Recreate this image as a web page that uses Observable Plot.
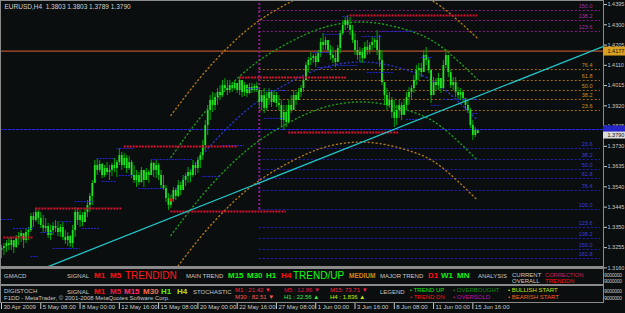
<!DOCTYPE html>
<html><head><meta charset="utf-8">
<script src="https://cdn.jsdelivr.net/npm/d3@7"></script>
<script src="https://cdn.jsdelivr.net/npm/@observablehq/plot@0.6"></script>
<style>
html,body{margin:0;padding:0;background:#0a0e0e;}
#wrap{position:relative;width:625px;height:313px;overflow:hidden;font-family:"Liberation Sans",Arial,sans-serif;background:#0a0e0e;}
#wrap svg{position:absolute;left:0;top:0;}
.t{position:absolute;white-space:nowrap;line-height:1;transform:translateY(-50%);}
.b{position:absolute;background:#8a8a8a;}
</style></head><body><div id="wrap"></div>
<script>
const symbol = "EURUSD,H4";
const open = [
1.3242,1.3251,1.3260,1.3274,1.3265,1.3288,1.3256,1.3298,1.3307,1.3321,
1.3288,1.3326,1.3335,1.3401,1.3382,1.3420,1.3392,1.3359,1.3345,1.3354,
1.3312,1.3335,1.3354,1.3345,1.3326,1.3349,1.3303,1.3288,1.3307,1.3274,
1.3335,1.3420,1.3382,1.3406,1.3373,1.3420,1.3453,1.3495,1.3556,1.3640,
1.3617,1.3645,1.3593,1.3626,1.3607,1.3617,1.3640,1.3626,1.3654,1.3687,
1.3640,1.3673,1.3626,1.3654,1.3593,1.3570,1.3593,1.3560,1.3617,1.3570,
1.3607,1.3593,1.3650,1.3617,1.3640,1.3593,1.3546,1.3532,1.3485,1.3453,
1.3481,1.3523,1.3495,1.3546,1.3523,1.3570,1.3589,1.3607,1.3593,1.3640,
1.3626,1.3664,1.3687,1.3734,1.3828,1.3898,1.3945,1.3922,1.3959,1.3983,
1.3968,1.4015,1.4001,1.3992,1.4015,1.4001,1.4025,1.3992,1.4039,1.3983,
1.4015,1.3978,1.4006,1.3992,1.4011,1.3992,1.3936,1.3968,1.3908,1.3954,
1.3983,1.3936,1.3968,1.3931,1.3922,1.3851,1.3889,1.3842,1.3922,1.3898,
1.3968,1.3945,1.3983,1.4001,1.4039,1.4109,1.4133,1.4142,1.4151,1.4123,
1.4165,1.4217,1.4203,1.4226,1.4180,1.4156,1.4142,1.4123,1.4189,1.4259,
1.4297,1.4320,1.4297,1.4273,1.4226,1.4180,1.4156,1.4170,1.4142,1.4194,
1.4180,1.4203,1.4217,1.4226,1.4180,1.4133,1.4029,1.3968,1.3922,1.3945,
1.3889,1.3861,1.3898,1.3922,1.3875,1.3922,1.3959,1.3983,1.4001,1.4039,
1.4086,1.4095,1.4076,1.4156,1.4133,1.4086,1.3968,1.4029,1.4015,1.4048,
1.4001,1.4109,1.4156,1.4076,1.4015,1.4029,1.3983,1.3968,1.3983,1.3954,
1.3922,1.3898,1.3828,1.3781,1.3803];
const high = [
1.3265,1.3274,1.3288,1.3298,1.3303,1.3288,1.3312,1.3326,1.3335,1.3321,
1.3345,1.3349,1.3415,1.3420,1.3439,1.3429,1.3420,1.3406,1.3392,1.3368,
1.3359,1.3373,1.3382,1.3377,1.3363,1.3373,1.3335,1.3326,1.3312,1.3359,
1.3443,1.3439,1.3429,1.3420,1.3434,1.3476,1.3509,1.3570,1.3664,1.3673,
1.3664,1.3650,1.3640,1.3654,1.3640,1.3650,1.3673,1.3664,1.3720,1.3701,
1.3696,1.3687,1.3682,1.3664,1.3640,1.3617,1.3607,1.3631,1.3617,1.3626,
1.3617,1.3664,1.3654,1.3664,1.3650,1.3617,1.3593,1.3546,1.3509,1.3499,
1.3537,1.3532,1.3570,1.3560,1.3593,1.3603,1.3631,1.3617,1.3664,1.3654,
1.3678,1.3701,1.3757,1.3851,1.3922,1.3968,1.3983,1.3978,1.4001,1.4015,
1.4039,1.4048,1.4039,1.4039,1.4029,1.4039,1.4025,1.4053,1.4039,1.4029,
1.4020,1.4025,1.4025,1.4020,1.4029,1.4006,1.3992,1.4001,1.3983,1.4001,
1.3992,1.3992,1.3983,1.3968,1.3945,1.3922,1.3922,1.3945,1.3968,1.3992,
1.3983,1.4001,1.4015,1.4053,1.4123,1.4147,1.4170,1.4161,1.4165,1.4180,
1.4236,1.4259,1.4241,1.4226,1.4203,1.4194,1.4180,1.4203,1.4273,1.4320,
1.4334,1.4344,1.4334,1.4297,1.4259,1.4226,1.4194,1.4189,1.4217,1.4226,
1.4217,1.4241,1.4236,1.4273,1.4250,1.4180,1.4029,1.4001,1.3983,1.3959,
1.3945,1.3922,1.3945,1.3936,1.3945,1.3983,1.4006,1.4015,1.4062,1.4109,
1.4119,1.4119,1.4180,1.4194,1.4147,1.4086,1.4053,1.4048,1.4072,1.4048,
1.4133,1.4184,1.4156,1.4086,1.4053,1.4053,1.4006,1.4001,1.3992,1.3954,
1.3945,1.3908,1.3851,1.3818,1.3803];
const low = [
1.3204,1.3218,1.3232,1.3242,1.3242,1.3227,1.3251,1.3265,1.3279,1.3251,
1.3274,1.3288,1.3326,1.3349,1.3373,1.3363,1.3345,1.3321,1.3326,1.3298,
1.3288,1.3312,1.3326,1.3307,1.3303,1.3288,1.3270,1.3260,1.3256,1.3251,
1.3303,1.3359,1.3349,1.3354,1.3373,1.3396,1.3420,1.3453,1.3556,1.3593,
1.3607,1.3579,1.3584,1.3593,1.3570,1.3589,1.3607,1.3584,1.3640,1.3617,
1.3626,1.3603,1.3617,1.3579,1.3556,1.3537,1.3546,1.3556,1.3537,1.3570,
1.3556,1.3593,1.3584,1.3579,1.3570,1.3532,1.3523,1.3467,1.3429,1.3439,
1.3467,1.3476,1.3490,1.3499,1.3532,1.3542,1.3556,1.3560,1.3584,1.3593,
1.3603,1.3626,1.3664,1.3710,1.3781,1.3851,1.3889,1.3898,1.3922,1.3945,
1.3959,1.3983,1.3968,1.3978,1.3983,1.3992,1.3978,1.3968,1.3959,1.3964,
1.3959,1.3973,1.3978,1.3983,1.3983,1.3908,1.3898,1.3884,1.3898,1.3922,
1.3912,1.3931,1.3912,1.3898,1.3818,1.3804,1.3818,1.3842,1.3884,1.3898,
1.3922,1.3945,1.3959,1.3983,1.4039,1.4076,1.4109,1.4119,1.4100,1.4123,
1.4147,1.4180,1.4180,1.4165,1.4133,1.4119,1.4100,1.4123,1.4165,1.4250,
1.4273,1.4283,1.4250,1.4212,1.4156,1.4133,1.4123,1.4119,1.4137,1.4156,
1.4161,1.4180,1.4189,1.4156,1.4100,1.4015,1.3922,1.3898,1.3908,1.3861,
1.3818,1.3828,1.3861,1.3851,1.3875,1.3898,1.3922,1.3945,1.3978,1.4015,
1.4039,1.4053,1.4076,1.4109,1.4072,1.3931,1.3968,1.3992,1.3992,1.3978,
1.4001,1.4095,1.4053,1.4001,1.3992,1.3959,1.3945,1.3945,1.3936,1.3898,
1.3884,1.3814,1.3757,1.3771,1.3789];
const close = [
1.3251,1.3260,1.3274,1.3265,1.3288,1.3256,1.3298,1.3307,1.3321,1.3288,
1.3326,1.3335,1.3401,1.3382,1.3420,1.3392,1.3359,1.3345,1.3354,1.3312,
1.3335,1.3354,1.3345,1.3326,1.3349,1.3303,1.3288,1.3307,1.3274,1.3335,
1.3420,1.3382,1.3406,1.3373,1.3420,1.3453,1.3495,1.3556,1.3640,1.3617,
1.3645,1.3593,1.3626,1.3607,1.3617,1.3640,1.3626,1.3654,1.3687,1.3640,
1.3673,1.3626,1.3654,1.3593,1.3570,1.3593,1.3560,1.3617,1.3570,1.3607,
1.3593,1.3650,1.3617,1.3640,1.3593,1.3546,1.3532,1.3485,1.3453,1.3481,
1.3523,1.3495,1.3546,1.3523,1.3570,1.3589,1.3607,1.3593,1.3640,1.3626,
1.3664,1.3687,1.3734,1.3828,1.3898,1.3945,1.3922,1.3959,1.3983,1.3968,
1.4015,1.4001,1.3992,1.4015,1.4001,1.4025,1.3992,1.4039,1.3983,1.4015,
1.3978,1.4006,1.3992,1.4011,1.3992,1.3936,1.3968,1.3908,1.3954,1.3983,
1.3936,1.3968,1.3931,1.3922,1.3851,1.3889,1.3842,1.3922,1.3898,1.3968,
1.3945,1.3983,1.4001,1.4039,1.4109,1.4133,1.4142,1.4151,1.4123,1.4165,
1.4217,1.4203,1.4226,1.4180,1.4156,1.4142,1.4123,1.4189,1.4259,1.4297,
1.4320,1.4297,1.4273,1.4226,1.4180,1.4156,1.4170,1.4142,1.4194,1.4180,
1.4203,1.4217,1.4226,1.4180,1.4133,1.4029,1.3968,1.3922,1.3945,1.3889,
1.3861,1.3898,1.3922,1.3875,1.3922,1.3959,1.3983,1.4001,1.4039,1.4086,
1.4095,1.4076,1.4156,1.4133,1.4086,1.3968,1.4029,1.4015,1.4048,1.4001,
1.4109,1.4156,1.4076,1.4015,1.4029,1.3983,1.3968,1.3983,1.3954,1.3922,
1.3898,1.3828,1.3781,1.3804,1.3790];

const dateIdx = [0,16,32,48,64,80,96,112,128,144,160,176,192];
const dateLabels = ["30 Apr 2009","5 May 08:00","8 May 00:00","12 May 16:00","15 May 08:00","20 May 00:00","22 May 16:00","27 May 08:00","1 Jun 00:00","3 Jun 16:00","8 Jun 08:00","11 Jun 00:00","15 Jun 16:00"];
const priceTicks = [1.4395,1.4300,1.4205,1.4110,1.4015,1.3920,1.3825,1.3730,1.3635,1.3540,1.3445,1.3350,1.3255,1.3160];

const fullLinePrice = 1.4177;
const bluePrice = 1.3809;
const fibStart = 105, fibEnd = 244;
const fibUpLabels = ["23.6","38.2","50.0","61.8","76.4"];
const fibUpPrices = [1.3898,1.3950,1.3992,1.4039,1.4090];
const fibExtLabels = ["123.6","138.2","150.0"];
const fibExtPrices = [1.4269,1.4320,1.4367];
const fibDnLabels = ["23.6","38.2","50.0","61.8","76.4","100.0","123.6","138.2","150.0","161.8"];
const fibDnPrices = [1.3720,1.3668,1.3621,1.3579,1.3523,1.3434,1.3349,1.3298,1.3246,1.3204];
const srStart = [1,14,50,69,97,117,142];
const srEnd   = [13,49,96,116,141,162,194];
const srPrice = [1.3303,1.3439,1.3729,1.3424,1.4053,1.3795,1.4344];
const fracStart = [0,5,12,16,21,24,28,30,33,39,41,47,48,56,61,82,90,100,108,107,127,129,131,137,139,147,149,155,165,171,175,180,192];
const fracEnd   = [5,13,15,21,28,29,32,38,40,46,47,54,54,66,78,89,99,105,117,115,135,135,138,145,141,155,160,168,171,176,179,194,194];
const fracPrice = [1.3387,1.3345,1.3213,1.3326,1.3251,1.3377,1.3251,1.3471,1.3345,1.3673,1.3565,1.3720,1.3593,1.3532,1.3668,1.3589,1.3734,1.4001,1.3992,1.3861,1.4170,1.4100,1.4255,1.4109,1.4339,1.4245,1.4076,1.4269,1.3856,1.4147,1.3922,1.3950,1.3884];
const chanIdx = [69,81,93,105,118,130,142,154,167,179,194];
const chanMid = [1.3499,1.3678,1.3828,1.3945,1.4034,1.4095,1.4123,1.4119,1.4081,1.4011,1.3851];
const chanUp1 = [1.3678,1.3865,1.4015,1.4133,1.4222,1.4283,1.4311,1.4306,1.4269,1.4198,1.4043];
const chanDn1 = [1.3312,1.3490,1.3640,1.3757,1.3847,1.3908,1.3936,1.3931,1.3893,1.3823,1.3664];
const chanUp2 = [1.3875,1.4053,1.4203,1.4320,1.4409,1.4470,1.4498,1.4494,1.4456,1.4386,1.4236];
const chanDn2 = [1.3124,1.3303,1.3453,1.3570,1.3659,1.3720,1.3748,1.3743,1.3706,1.3635,1.3476];
const trendIdx = [19,245];
const trendPrice = [1.3166,1.4198];
const markIdx = [69];
const markPrice = [1.3479];

const n = open.length;
const bars = open.map((o,i)=>({i, o, h:high[i], l:low[i], c:close[i]}));
const hl = (s,e,p)=>p.map((v,k)=>({p:v,a:s[k],b:e[k]}));
const chan = arr => chanIdx.map((x,k)=>({i:x,p:arr[k]}));
const fibRows = (labs,prices)=>labs.map((t,k)=>({t,p:prices[k]}));
const font = "Liberation Sans, Arial, sans-serif";

const chart = Plot.plot({
  width:625, height:313,
  marginLeft:0, marginRight:22, marginTop:0, marginBottom:45,
  x:{domain:[0,244], range:[1,600], axis:null},
  y:{domain:[1.31571,1.4414], range:[268,0], axis:null},
  style:{background:"#0a0e0e", color:"#c8c8c8", fontFamily:font, fontSize:"6px"},
  marks:[
    Plot.ruleY([fullLinePrice], {stroke:"#b4502c", strokeWidth:1.2}),
    Plot.ruleY([bluePrice], {stroke:"#2a2ad0", strokeDasharray:"3,1"}),
    Plot.ruleY(fibRows(fibUpLabels,fibUpPrices), {y:"p", x1:fibStart, x2:fibEnd, stroke:"#a8700e", strokeDasharray:"2,2"}),
    Plot.ruleY(fibRows(fibExtLabels,fibExtPrices), {y:"p", x1:fibStart, x2:fibEnd, stroke:"#8c1a8c", strokeDasharray:"2,2"}),
    Plot.ruleY(fibRows(fibDnLabels,fibDnPrices), {y:"p", x1:fibStart, x2:fibEnd, stroke:"#2424c0", strokeDasharray:"2,2"}),
    Plot.ruleX([fibStart], {y1:fibDnPrices[5], y2:1.4414, stroke:"#8c1a8c", strokeWidth:2, strokeDasharray:"2,2"}),
    Plot.line(chan(chanUp2), {x:"i", y:"p", curve:"natural", stroke:"#b07818", strokeDasharray:"1,3", strokeWidth:1.4, clip:true}),
    Plot.line(chan(chanDn2), {x:"i", y:"p", curve:"natural", stroke:"#b07818", strokeDasharray:"1,3", strokeWidth:1.4, clip:true}),
    Plot.line(chan(chanUp1), {x:"i", y:"p", curve:"natural", stroke:"#1e9a1e", strokeDasharray:"1,3", strokeWidth:1.4, clip:true}),
    Plot.line(chan(chanDn1), {x:"i", y:"p", curve:"natural", stroke:"#1e9a1e", strokeDasharray:"1,3", strokeWidth:1.4, clip:true}),
    Plot.line(chan(chanMid), {x:"i", y:"p", curve:"natural", stroke:"#2a34c0", strokeDasharray:"1,3", strokeWidth:1.4, clip:true}),
    Plot.ruleX(bars, {x:"i", y1:"l", y2:"h", stroke:"#00a800", strokeWidth:1}),
    Plot.ruleX(bars, {x:"i", y1:"o", y2:"c", stroke:"#22e022", strokeWidth:1.8}),
    Plot.ruleY(hl(fracStart,fracEnd,fracPrice), {y:"p", x1:"a", x2:"b", stroke:"#2626d0", strokeDasharray:"2,1"}),
    Plot.ruleY(hl(srStart,srEnd,srPrice), {y:"p", x1:"a", x2:"b", stroke:"#d81030", strokeWidth:2, strokeDasharray:"2,1"}),
    Plot.dot(markIdx.map((x,k)=>({i:x,p:markPrice[k]})), {x:"i", y:"p", symbol:"square", r:1.7, fill:"#ff1010"}),
    Plot.line(trendIdx.map((x,k)=>({i:x,p:trendPrice[k]})), {x:"i", y:"p", stroke:"#22c4c8", strokeWidth:1.3, clip:true}),
    Plot.text(fibRows(fibUpLabels,fibUpPrices), {x:fibEnd, y:"p", text:"t", textAnchor:"end", dx:-8, dy:-4, fill:"#c89024", fontSize:5.5}),
    Plot.text(fibRows(fibExtLabels,fibExtPrices), {x:fibEnd, y:"p", text:"t", textAnchor:"end", dx:-8, dy:-4, fill:"#a030a0", fontSize:5.5}),
    Plot.text(fibRows(fibDnLabels,fibDnPrices), {x:fibEnd, y:"p", text:"t", textAnchor:"end", dx:-8, dy:-4, fill:"#3a3ae0", fontSize:5.5}),
    Plot.frame({stroke:"#8a8a8a"}),
    Plot.axisY({anchor:"right", ticks:priceTicks, tickFormat:d=>d.toFixed(4), tickSize:3, tickPadding:1, fontSize:5.5, stroke:"#c8c8c8", fill:"#c8c8c8"}),
    Plot.ruleY([fullLinePrice], {stroke:"#d8a020", strokeWidth:9, insetLeft:603, insetRight:-22}),
    Plot.text([fullLinePrice], {y:d=>d, frameAnchor:"right", textAnchor:"start", dx:4, text:d=>d.toFixed(4), fill:"#101010", fontSize:5.5}),
    Plot.ruleY([bluePrice], {stroke:"#2626c8", strokeWidth:8, insetLeft:603, insetRight:-22}),
    Plot.ruleY([close[n-1]], {stroke:"#dcdcdc", strokeWidth:7, insetLeft:603, insetRight:-22, dy:1.5}),
    Plot.text([close[n-1]], {y:d=>d, frameAnchor:"right", textAnchor:"start", dx:4, dy:1.5, text:d=>d.toFixed(4), fill:"#101010", fontSize:5.5}),
    Plot.axisX({ticks:dateIdx, tickSize:6, tickFormat:()=>"", dy:35, stroke:"#c8c8c8"}),
    Plot.axisX({ticks:dateIdx, tickSize:0, tickPadding:0, lineAnchor:"top", textAnchor:"start", dx:2, dy:36, fontSize:6, fill:"#c8c8c8",
      tickFormat:d=>dateLabels[dateIdx.indexOf(d)]}),
    Plot.text([`${symbol}  ${open[n-1].toFixed(4)} ${high[n-1].toFixed(4)} ${low[n-1].toFixed(4)} ${close[n-1].toFixed(4)}`],
      {frameAnchor:"top-left", text:d=>d, textAnchor:"start", lineAnchor:"top", dx:4, dy:4, fill:"#d0d0d0", fontSize:6.5})
  ]
});
const wrap = document.getElementById("wrap");
wrap.appendChild(chart);

const G="#c8c8c8";
const panelText = [
  {t:"GMACD",x:4,y:276,c:G,s:6},
  {t:"SIGNAL",x:67,y:276,c:G,s:6},
  {t:"M1",x:94,y:276,c:"#ff1010",s:8,b:1},
  {t:"M5",x:110,y:276,c:"#ff1010",s:8,b:1},
  {t:"TRENDIDN",x:125,y:276,c:"#ff1a1a",s:10},
  {t:"MAIN TREND",x:186,y:276,c:G,s:6},
  {t:"M15",x:228,y:276,c:"#10f010",s:8,b:1},
  {t:"M30",x:247,y:276,c:"#10f010",s:8,b:1},
  {t:"H1",x:266,y:276,c:"#10f010",s:8,b:1},
  {t:"H4",x:281,y:276,c:"#ff1010",s:8,b:1},
  {t:"TREND/UP",x:293,y:276,c:"#10ff10",s:10},
  {t:"MEDIUM",x:349,y:276,c:"#d08a10",s:6.5,b:1},
  {t:"MAJOR TREND",x:380,y:276,c:G,s:6},
  {t:"D1",x:428,y:276,c:"#ff1010",s:8,b:1},
  {t:"W1",x:441,y:276,c:"#10f010",s:8,b:1},
  {t:"MN",x:457,y:276,c:"#10f010",s:8,b:1},
  {t:"ANALYSIS",x:478,y:276,c:G,s:6},
  {t:"CURRENT",x:512,y:275,c:G,s:6},
  {t:"OVERALL",x:512,y:281,c:G,s:6},
  {t:"CORRECTION",x:545,y:275,c:"#c8205a",s:6,ls:-0.2},
  {t:"TRENDDN",x:545,y:281,c:"#ff1010",s:6},
  {t:"DIGISTOCH",x:4,y:291,c:G,s:6},
  {t:"F1DD - MetaTrader, © 2001-2008 MetaQuotes Software Corp.",x:4,y:297.5,c:G,s:6},
  {t:"SIGNAL",x:67,y:292,c:G,s:6},
  {t:"M1",x:94,y:292,c:"#ff1010",s:8,b:1},
  {t:"M5",x:110,y:292,c:"#e01c48",s:8,b:1},
  {t:"M15",x:124,y:292,c:"#ff2c6c",s:8,b:1},
  {t:"M30",x:143,y:292,c:"#ff6a4a",s:8,b:1},
  {t:"H1",x:161,y:292,c:"#60f010",s:8,b:1},
  {t:"H4",x:177,y:292,c:"#b8e010",s:8,b:1},
  {t:"STOCHASTIC",x:193,y:292,c:G,s:6},
  {t:"M1   : 21.42 ▼",x:235,y:290,c:"#ff2040",s:6},
  {t:"M30 : 82.51 ▼",x:235,y:297,c:"#ff5a50",s:6},
  {t:"M5   : 12.86 ▼",x:284,y:290,c:"#e0104c",s:6},
  {t:"H1   : 22.56 ▲",x:284,y:297,c:"#40f040",s:6},
  {t:"M15: 73.71 ▼",x:330,y:290,c:"#ff2040",s:6},
  {t:"H4   : 1.836 ▲",x:330,y:297,c:"#c0f000",s:6},
  {t:"LEGEND",x:380,y:292,c:G,s:6},
  {t:"• TREND UP",x:410,y:290,c:"#10e010",s:6},
  {t:"• TREND DN",x:410,y:297,c:"#ff1010",s:6},
  {t:"• OVERBOUGHT",x:453,y:290,c:"#108a10",s:6},
  {t:"• OVERSOLD",x:453,y:297,c:"#c010a8",s:6},
  {t:"• BULLISH START",x:508,y:290,c:"#c0e010",s:6},
  {t:"• BEARISH START",x:508,y:297,c:"#ff5a20",s:6},
  {t:"-9000000",x:603,y:275,c:G,s:5,ls:-0.3},
  {t:"-9000000",x:603,y:281,c:G,s:5,ls:-0.3},
  {t:"-9000000",x:603,y:291,c:G,s:5,ls:-0.3},
  {t:"-9000000",x:603,y:298,c:G,s:5,ls:-0.3}
];
const borders = [
  {l:0,t:266,w:603,h:2},{l:0,t:284,w:603,h:2},{l:0,t:302,w:604,h:1},
  {l:0,t:266,w:1,h:37},{l:603,t:266,w:1,h:37}
];
for (const b of borders){const d=document.createElement("div");d.className="b";Object.assign(d.style,{left:b.l+"px",top:b.t+"px",width:b.w+"px",height:b.h+"px"});wrap.appendChild(d);}
for (const p of panelText){const d=document.createElement("div");d.className="t";d.textContent=p.t;Object.assign(d.style,{left:p.x+"px",top:p.y+"px",color:p.c,fontSize:p.s+"px",fontWeight:p.b?"bold":"normal",letterSpacing:(p.ls||0)+"px"});wrap.appendChild(d);}
</script></body></html>
